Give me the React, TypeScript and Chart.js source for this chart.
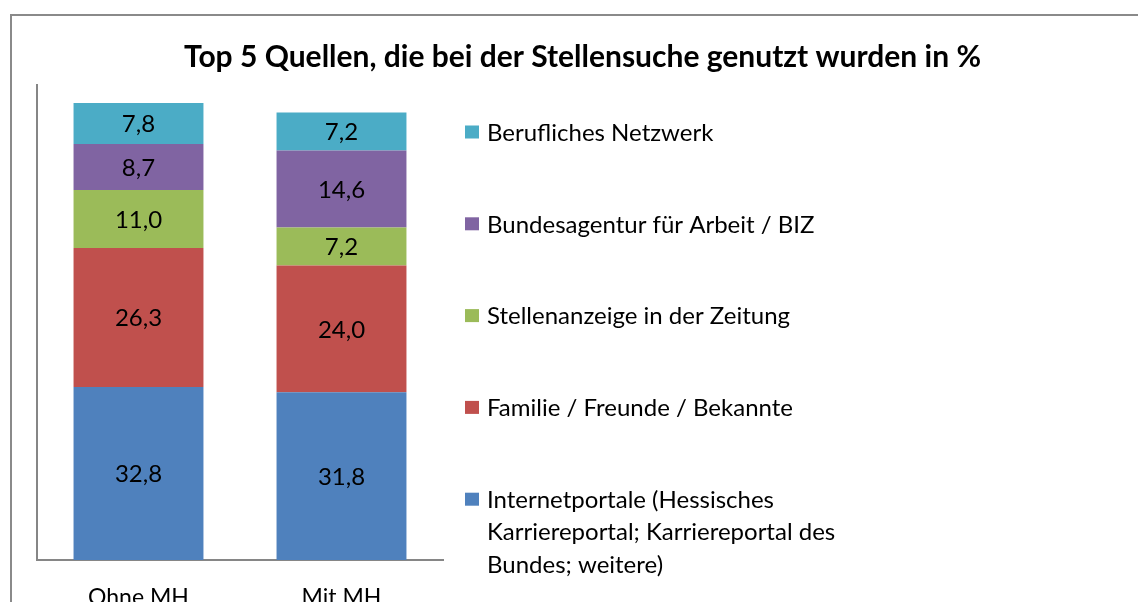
import React, { useEffect, useRef } from "react";
import { Chart, registerables } from "chart.js";

Chart.register(...registerables);

const TITLE = "Top 5 Quellen, die bei der Stellensuche genutzt wurden in %";
const CATEGORIES = ["Ohne MH", "Mit MH"];
const SERIES_LABELS: string[][] = [
  ["Internetportale (Hessisches", "Karriereportal; Karriereportal des", "Bundes; weitere)"],
  ["Familie / Freunde / Bekannte"],
  ["Stellenanzeige in der Zeitung"],
  ["Bundesagentur für Arbeit / BIZ"],
  ["Berufliches Netzwerk"],
];
const INTERNETPORTALE = [32.8, 31.8];
const FAMILIE = [26.3, 24.0];
const STELLENANZEIGE = [11.0, 7.2];
const BUNDESAGENTUR = [8.7, 14.6];
const NETZWERK = [7.8, 7.2];
const SERIES_VALUES = [INTERNETPORTALE, FAMILIE, STELLENANZEIGE, BUNDESAGENTUR, NETZWERK];
const COLORS = ["#4F81BD", "#C0504D", "#9BBB59", "#8064A2", "#4BACC6"];
const Y_MIN = 0;
const Y_MAX = 90;

const FONT = "Lato, 'Open Sans', sans-serif";
const W = 1138;
const H = 602;

const fmt = (v: number) => v.toFixed(1).replace(".", ",");

const titlePlugin = {
  id: "customTitle",
  afterDraw(chart: any) {
    const ctx = chart.ctx;
    ctx.save();
    ctx.font = `bold 30px ${FONT}`;
    ctx.fillStyle = "#000";
    ctx.textAlign = "center";
    ctx.textBaseline = "middle";
    ctx.fillText(TITLE, 582.5, 57);
    ctx.restore();
  },
};

const valueLabelPlugin = {
  id: "valueLabels",
  afterDatasetsDraw(chart: any) {
    const ctx = chart.ctx;
    ctx.save();
    ctx.font = `24px ${FONT}`;
    ctx.fillStyle = "#000";
    ctx.textAlign = "center";
    ctx.textBaseline = "middle";
    chart.data.datasets.forEach((ds: any, di: number) => {
      const meta = chart.getDatasetMeta(di);
      meta.data.forEach((el: any, i: number) => {
        const p = el.getProps(["x", "y", "base"], true);
        ctx.fillText(fmt(ds.data[i]), p.x, (p.y + p.base) / 2 + 1);
      });
    });
    ctx.restore();
  },
};

const legendPlugin = {
  id: "customLegend",
  afterDraw(chart: any) {
    const ctx = chart.ctx;
    ctx.save();
    ctx.font = `24px ${FONT}`;
    ctx.fillStyle = "#000";
    ctx.textAlign = "left";
    ctx.textBaseline = "middle";
    const ds = chart.data.datasets.slice().reverse();
    const firstY = 132;
    const step = 91.8;
    const lineH = 32.5;
    ds.forEach((d: any, i: number) => {
      const cy = firstY + i * step;
      ctx.fillStyle = d.backgroundColor;
      ctx.fillRect(465, cy - 6.5, 14, 13);
      ctx.fillStyle = "#000";
      (d.legendLines as string[]).forEach((line, li) => {
        ctx.fillText(line, 487, cy + li * lineH + 1);
      });
    });
    ctx.restore();
  },
};

export default function App() {
  const ref = useRef<HTMLCanvasElement | null>(null);

  useEffect(() => {
    if (!ref.current) return;
    const chart = new Chart(ref.current, {
      type: "bar",
      data: {
        labels: CATEGORIES,
        datasets: SERIES_VALUES.map((vals, i) => ({
          label: SERIES_LABELS[i].join(" "),
          legendLines: SERIES_LABELS[i],
          data: vals,
          backgroundColor: COLORS[i],
          borderWidth: 0,
          barPercentage: 0.64,
          categoryPercentage: 1.0,
        })) as any,
      },
      options: {
        responsive: false,
        animation: false,
        layout: { padding: { left: 37, right: W - 443, top: 85, bottom: 0 } },
        plugins: {
          legend: { display: false },
          title: { display: false },
          tooltip: { enabled: false },
        },
        scales: {
          x: {
            stacked: true,
            grid: { display: false, drawTicks: false },
            border: { display: true, color: "#868686", width: 2 },
            ticks: { color: "#000", font: { family: FONT, size: 23 }, padding: 24 },
            afterFit(scale: any) {
              scale.height = H - 560;
            },
          },
          y: {
            stacked: true,
            min: Y_MIN,
            max: Y_MAX,
            grid: { display: false, drawTicks: false },
            border: { display: true, color: "#868686", width: 2 },
            ticks: { display: false },
            afterFit(scale: any) {
              scale.width = 0;
            },
          },
        },
      } as any,
      plugins: [titlePlugin, valueLabelPlugin, legendPlugin],
    });
    return () => chart.destroy();
  }, []);

  return (
    <div style={{ position: "fixed", left: 0, top: 0, width: W, height: H, background: "#fff", overflow: "hidden" }}>
      <div
        style={{
          position: "absolute",
          left: 10,
          top: 14,
          width: 1300,
          height: 800,
          border: "2px solid #8a8a8a",
          boxSizing: "border-box",
        }}
      />
      <canvas ref={ref} width={W} height={H} style={{ position: "absolute", left: 0, top: 0 }} />
    </div>
  );
}
